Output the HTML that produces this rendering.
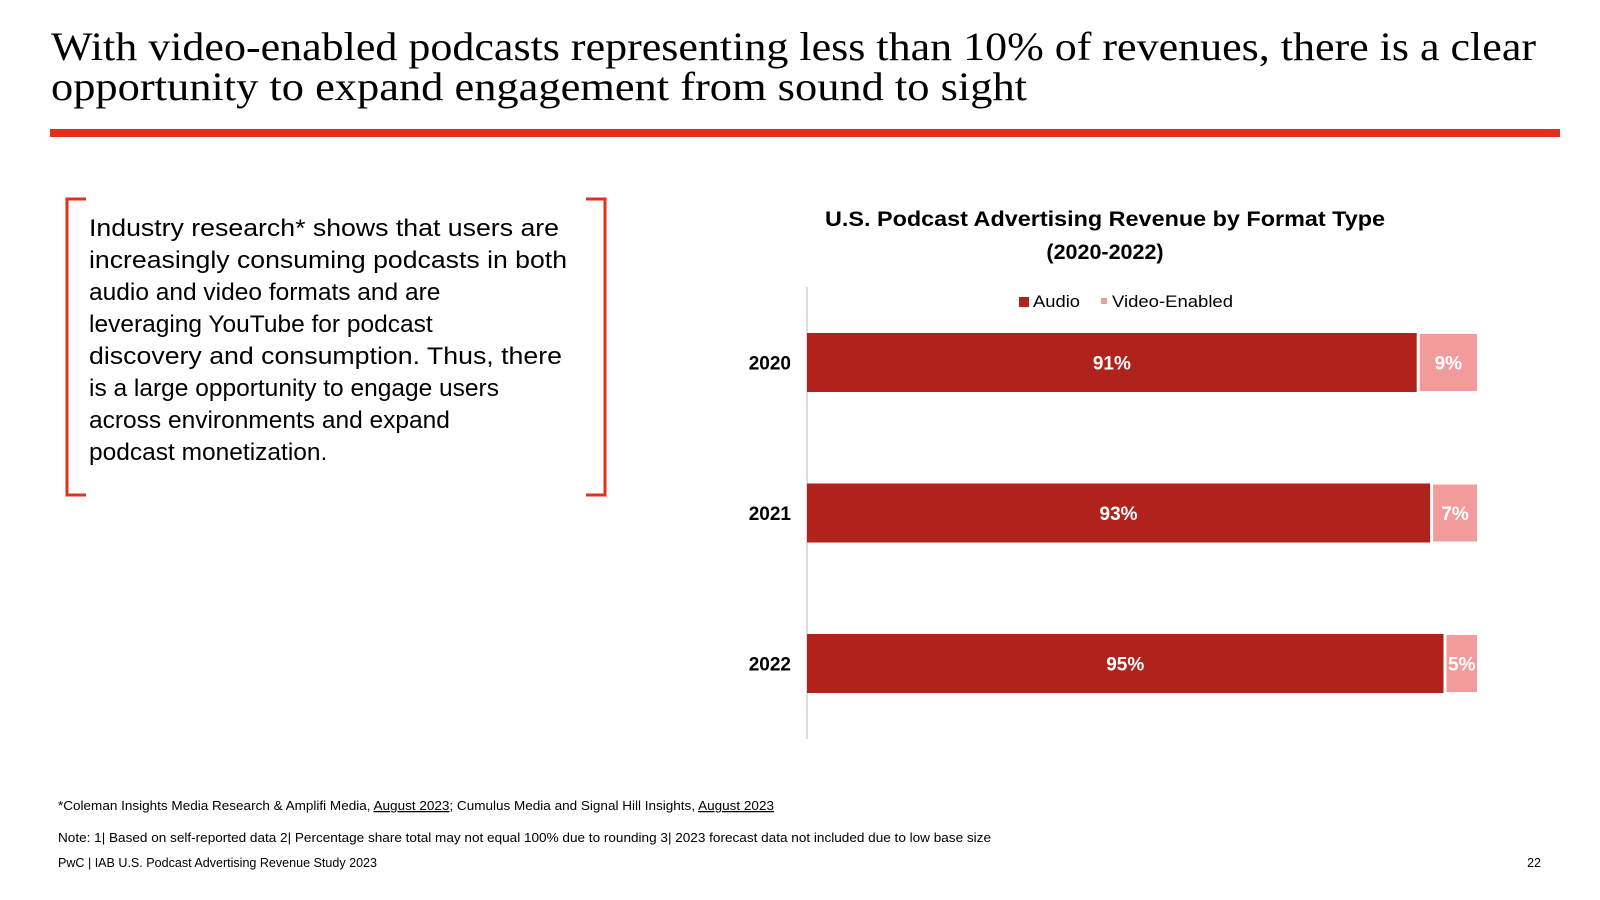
<!DOCTYPE html>
<html><head><meta charset="utf-8"><style>
html,body{margin:0;padding:0;background:#fff;}
svg{display:block;}
text{font-family:"Liberation Sans",Arial,sans-serif;}
</style></head><body>
<svg id="page" width="1600" height="900" viewBox="0 0 1600 900">
<g fill="#000">
<text x="51" y="60" font-size="40" textLength="1485" lengthAdjust="spacingAndGlyphs" style="font-family:'Liberation Serif',serif">With video-enabled podcasts representing less than 10% of revenues, there is a clear</text>
<text x="51" y="100" font-size="40" textLength="976" lengthAdjust="spacingAndGlyphs" style="font-family:'Liberation Serif',serif">opportunity to expand engagement from sound to sight</text>
</g>
<rect x="50" y="129" width="1510" height="8" fill="#E0301E"/>
<g fill="none" stroke="#E0301E" stroke-width="3">
<polyline points="86,199 67,199 67,495 86,495"/>
<polyline points="586,199 605,199 605,495 586,495"/>
</g>
<g font-size="24.5" fill="#000">
<text x="89" y="236" textLength="470" lengthAdjust="spacingAndGlyphs">Industry research* shows that users are</text>
<text x="89" y="268" textLength="478" lengthAdjust="spacingAndGlyphs">increasingly consuming podcasts in both</text>
<text x="89" y="300">audio and video formats and are</text>
<text x="89" y="332">leveraging YouTube for podcast</text>
<text x="89" y="364" textLength="473" lengthAdjust="spacingAndGlyphs">discovery and consumption. Thus, there</text>
<text x="89" y="396">is a large opportunity to engage users</text>
<text x="89" y="428">across environments and expand</text>
<text x="89" y="460">podcast monetization.</text>
</g>
<g font-size="21.5" font-weight="bold" fill="#000" text-anchor="middle">
<text x="1105" y="226" textLength="560" lengthAdjust="spacingAndGlyphs">U.S. Podcast Advertising Revenue by Format Type</text>
<text x="1105" y="259">(2020-2022)</text>
</g>
<g font-size="16.5" fill="#000">
<rect x="1019" y="297" width="10" height="10" fill="#B0221C"/>
<text x="1033" y="307" textLength="47" lengthAdjust="spacingAndGlyphs">Audio</text>
<rect x="1101" y="298" width="6" height="6" fill="#F29B9B"/>
<text x="1112" y="307" textLength="121" lengthAdjust="spacingAndGlyphs">Video-Enabled</text>
</g>
<line x1="807" y1="287" x2="807" y2="739" stroke="#d0d0d0" stroke-width="1.5"/>
<g id="bars"></g>
<g font-size="12.5" fill="#000">
<text x="58" y="810" textLength="716" lengthAdjust="spacingAndGlyphs">*Coleman Insights Media Research &amp; Amplifi Media, <tspan text-decoration="underline">August 2023</tspan>; Cumulus Media and Signal Hill Insights, <tspan text-decoration="underline">August 2023</tspan></text>
<text x="58" y="842" textLength="933" lengthAdjust="spacingAndGlyphs">Note: 1| Based on self-reported data 2| Percentage share total may not equal 100% due to rounding  3| 2023 forecast data not included due to low base size</text>
<text x="58" y="867" textLength="319" lengthAdjust="spacingAndGlyphs">PwC | IAB U.S. Podcast Advertising Revenue Study 2023</text>
<text x="1541" y="867" text-anchor="end">22</text>
</g>
</svg>
<script>
const years = ["2020","2021","2022"];
const audio = [91,93,95];
const video = [9,7,5];
const NS="http://www.w3.org/2000/svg";
const g=document.getElementById('bars');
const x0=807, xw=670, y0=362.5, band=150.5, bh=59;
function xs(v){return x0 + v/100*xw;}
function yc(i){return y0 + i*band;}
function el(tag,attrs,txt){const e=document.createElementNS(NS,tag);for(const k in attrs)e.setAttribute(k,attrs[k]);if(txt!==undefined)e.textContent=txt;g.appendChild(e);return e;}
years.forEach((yr,i)=>{
  const c=yc(i);
  const lab=el('text',{x:791,y:c+7,'text-anchor':'end','font-size':19,'font-weight':'bold',fill:'#000'},yr);
  
  
  const a=el('rect',{x:xs(0),y:c-bh/2,width:xs(audio[i])-xs(0),height:bh,fill:'#B0221C'});
  
  
  const vx=xs(audio[i])+3, vw=xs(audio[i]+video[i])-xs(audio[i])-3;
  const v=el('rect',{x:vx,y:c-bh/2+1,width:vw,height:bh-2,fill:'#F29B9B'});
  
  
  const at=el('text',{x:(xs(0)+xs(audio[i]))/2,y:c+7,'text-anchor':'middle','font-size':19,'font-weight':'bold',fill:'#fff'},audio[i]+'%');
  
  
  const vt=el('text',{x:vx+vw/2,y:c+7,'text-anchor':'middle','font-size':19,'font-weight':'bold',fill:'#fff'},video[i]+'%');
  
  
});
</script>
</body></html>
